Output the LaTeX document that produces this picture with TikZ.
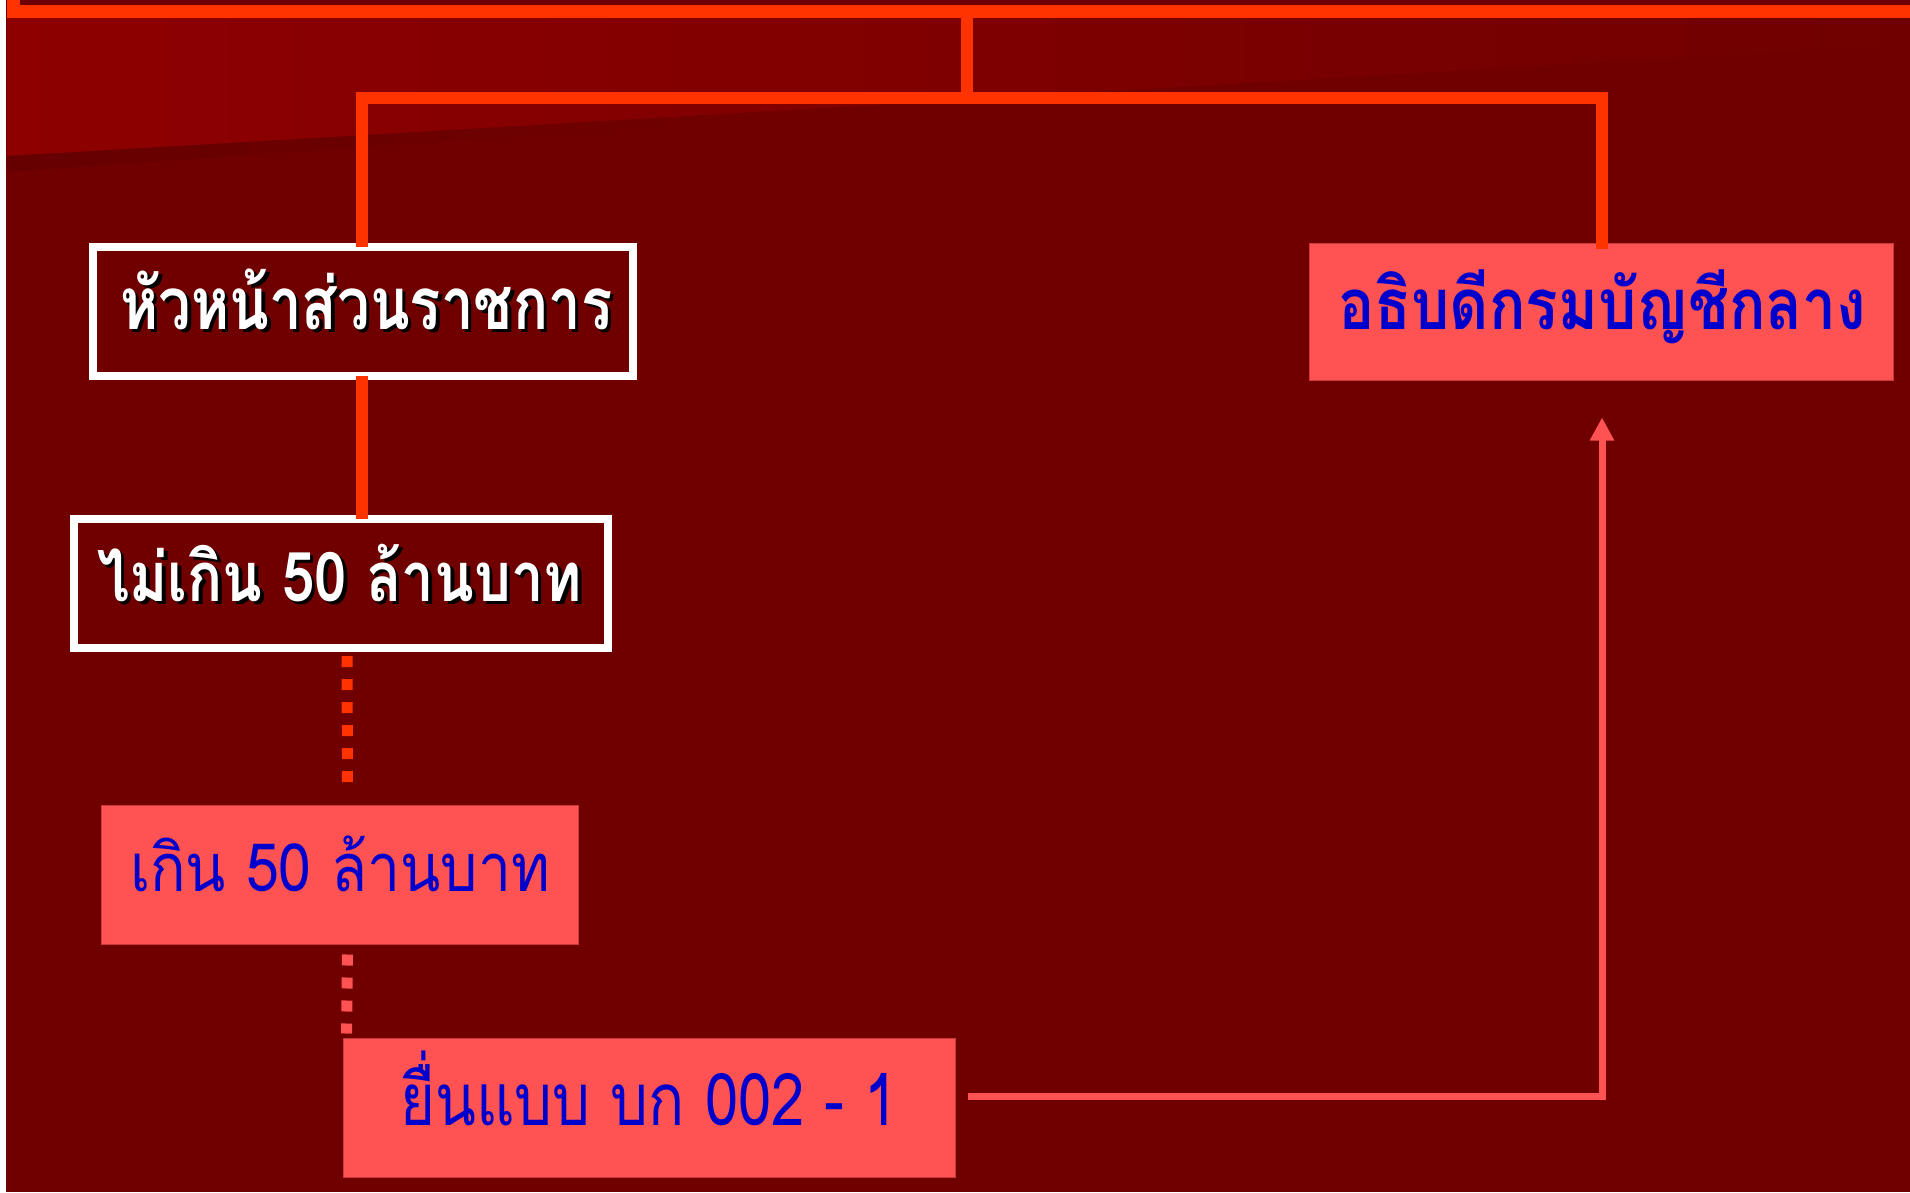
\documentclass[tikz,border=0pt]{standalone}
\usepackage{fontspec}
\usepackage{graphicx}
\newfontfamily\thai[Script=Thai]{Loma}
\usetikzlibrary{arrows.meta,calc}
\definecolor{bg}{HTML}{700000}
\definecolor{bglight}{HTML}{8E0000}
\definecolor{bgdark}{HTML}{660000}
\definecolor{orng}{HTML}{FF3300}
\definecolor{salmon}{HTML}{FF5252}
\definecolor{salmonedge}{HTML}{C83A3A}
\definecolor{tblue}{HTML}{0000CC}
\newlength\xhtmp
% #1 font switch, #2 target height of a Thai consonant (pt), #3 target width, #4 text
\newcommand\fitthai[4]{%
  \setbox0=\hbox{#1\fontsize{100pt}{100pt}\selectfont น}%
  \xhtmp=\ht0
  \pgfmathsetmacro\fitfs{110*#2/\xhtmp}%
  \resizebox{#3}{\height}{#1\fontsize{\fitfs pt}{\fitfs pt}\selectfont #4}%
}
\begin{document}
\begin{tikzpicture}[x=1pt,y=-1pt,
  outlinebox/.style={draw=white,line width=8pt,inner sep=0pt},
  fillbox/.style={fill=salmon,draw=salmonedge,line width=1pt,inner sep=0pt},
  txt/.style={anchor=base west,inner sep=0pt},
  trunk/.style={draw=orng,line width=12pt,line join=miter},
  dotline/.style={line width=11pt,dash pattern=on 11pt off 12pt},
  flow/.style={draw=salmon,line width=7pt,-{Triangle[length=23pt,width=23pt]}}
]
\useasboundingbox (0,0) rectangle (1910,1192);
% background
\fill[bg] (0,0) rectangle (1910,1192);
\shade[left color=bglight,right color=bg] (7,17) -- (1910,17) -- (1910,44) -- (7,156) -- cycle;
\shade[left color=bgdark,right color=bg] (7,156) -- (700,116) -- (700,124) -- (7,172) -- cycle;
\fill[white] (0,0) rectangle (6,1192);
% top line
\coordinate (tl) at (13.5,0);
\coordinate (tr) at (1910,11);
\draw[orng,line width=13pt,line join=miter] (tl) |- (tr);
% boxes
\node[outlinebox,minimum width=540pt,minimum height=129pt] (b1) at (363,311.5) {};
\node[outlinebox,minimum width=534pt,minimum height=129pt] (b2) at (341,583.5) {};
\node[fillbox,minimum width=477pt,minimum height=139pt] (b3) at (339.5,874.5) {};
\node[fillbox,minimum width=612pt,minimum height=139pt] (b4) at (649,1107.5) {};
\node[fillbox,minimum width=584pt,minimum height=137pt] (b5) at (1601,311.5) {};
% texts
\node[txt,text=black] (s1) at (123.5,332.5) {\fitthai{\thai\bfseries}{37}{492pt}{หัวหน้าส่วนราชการ}};
\node[txt,text=white] (t1) at (120,329) {\fitthai{\thai\bfseries}{37}{492pt}{หัวหน้าส่วนราชการ}};
\node[txt,text=black] (s2) at (100.5,604.5) {\fitthai{\thai\bfseries}{35}{485pt}{ไม่เกิน 50 ล้านบาท}};
\node[txt,text=white] (t2) at (97,601) {\fitthai{\thai\bfseries}{35}{485pt}{ไม่เกิน 50 ล้านบาท}};
\node[txt,text=tblue] (t3) at (130,891) {\fitthai{\thai}{34}{420pt}{เกิน 50 ล้านบาท}};
\node[txt,text=tblue] (t4) at (400,1125) {\fitthai{\thai}{37}{498pt}{ยื่นแบบ บก 002 - 1}};
\node[txt,text=tblue] (t5) at (1338,329) {\fitthai{\thai\bfseries}{36}{528pt}{อธิบดีกรมบัญชีกลาง}};
% connectors
\coordinate (topj) at (967,11);
\coordinate (midj) at (967,98);
\draw[orng,line width=12pt] (topj) -- (midj);
\coordinate (lj) at (362,98);
\coordinate (rj) at (1602,98);
\draw[trunk] ($(b1.north)+(-1,4)$) -- (lj) -- (rj) -- ($(b5.north)+(1,6)$);
\draw[orng,line width=12pt] ($(b1.south)+(-1,-4)$) -- ($(b1.south |- b2.north)+(-1,4)$);
\draw[orng,dotline] ($(b2.south)+(6,4)$) -- ($(b3.north)+(8,-14)$);
\draw[salmon,dotline] ($(b3.south)+(8,10)$) -- ($(b4.north west)+(4,-4)$);
\draw[flow,shorten >=37pt] ($(b4.east)+(12,-11)$) -| ($(b5.south)+(1,0)$);
\end{tikzpicture}
\end{document}
